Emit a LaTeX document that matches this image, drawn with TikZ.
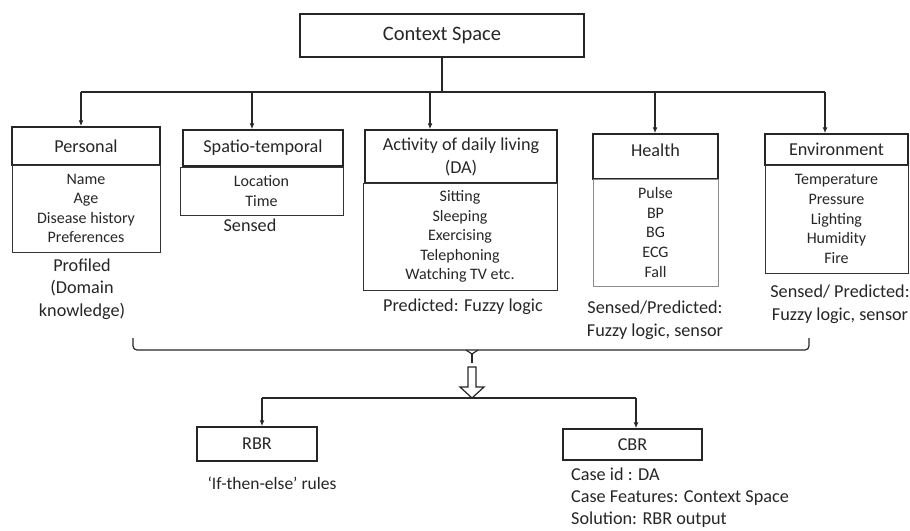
\documentclass[tikz,border=0pt]{standalone}
\usepackage{fontspec}
\setmainfont{Carlito}
\usetikzlibrary{arrows.meta}
\begin{document}
\begin{tikzpicture}[x=1pt,y=-1pt,
  line/.style={draw=black!85, line width=1.2pt},
  arr/.style={line, -{Latex[length=6pt,width=5pt]}},
  title/.style={draw=black!85, line width=1.5pt, rectangle, inner sep=0pt, align=center,
    text=black!85, font=\fontsize{20.5}{24}\selectfont},
  head/.style={draw=black!85, line width=1.5pt, rectangle, inner sep=0pt, align=center,
    text=black!85, font=\fontsize{18.2}{23}\selectfont},
  list/.style={draw=black!80, line width=1pt, rectangle, inner sep=0pt, align=center,
    text=black!85, font=\fontsize{16}{19.6}\selectfont},
  lbl/.style={inner sep=0pt, align=center, text=black!85, font=\fontsize{18.2}{22.5}\selectfont},
]
\useasboundingbox (0,0) rectangle (910,530);

% top node
\node[title, minimum width=284pt, minimum height=43pt] (cs) at (442,35.5) {Context Space};

% context categories: header boxes
\node[head, minimum width=148pt, minimum height=38pt] (ph) at (86,146) {Personal};
\node[head, minimum width=160pt, minimum height=36pt] (sh) at (263,148) {Spatio-temporal};
\node[head, minimum width=192pt, minimum height=53pt] (ah) at (461,156.5) {Activity of daily living\\(DA)};
\node[head, minimum width=125pt, minimum height=45pt, text height=12pt, text depth=13pt] (hh) at (655.5,156.5) {Health};
\node[head, minimum width=143pt, minimum height=31pt] (eh) at (836.5,149.5) {Environment};

% context categories: attribute lists
\node[list, minimum width=148pt, minimum height=87pt] (pl) at (86,208.5) {Name\\Age\\Disease history\\Preferences};
\node[list, minimum width=163pt, minimum height=48pt] (sl) at (261.5,191) {Location\\Time};
\node[list, minimum width=194pt, minimum height=107pt] (al) at (460,236.5) {Sitting\\Sleeping\\Exercising\\Telephoning\\Watching TV etc.};
\node[list, draw=black!45, minimum width=125pt, minimum height=107pt] (hl) at (655.5,232.5) {Pulse\\BP\\BG\\ECG\\Fall};
\node[list, minimum width=143pt, minimum height=108pt] (el) at (836.5,219) {Temperature\\Pressure\\Lighting\\Humidity\\Fire};

% source annotations
\node[lbl] (pn) at (82,289) {Profiled\\(Domain\\knowledge)};
\node[lbl] (sn) at (250,225) {Sensed};
\node[lbl] (an) at (463,307) {Predicted: Fuzzy logic};
\node[lbl] (hn) at (655,320) {Sensed/Predicted:\\Fuzzy logic, sensor};
\node[lbl] (en) at (840,304) {Sensed/ Predicted:\\Fuzzy logic, sensor};

% distribution bus
\coordinate (top) at (442,92);
\coordinate (b1) at (81,92);
\coordinate (b2) at (252,92);
\coordinate (b3) at (430,92);
\coordinate (b4) at (655,92);
\coordinate (b5) at (825,92);
\draw[line] (cs.south) -- (top);
\draw[line] (b1) -- (b5);
\draw[arr] (b1) -- (b1 |- ph.north);
\draw[arr] (b2) -- (b2 |- sh.north);
\draw[arr] (b3) -- (b3 |- ah.north);
\draw[arr] (b4) -- (b4 |- hh.north);
\draw[arr] (b5) -- (b5 |- eh.north);

% gathering bracket
\coordinate (gl) at (133,338);
\coordinate (gr) at (809,338);
\coordinate (gm) at (472,350);
\draw[line, rounded corners=4pt] (gl) -- (133,350) -- (809,350) -- (gr);
\draw[line] (466,350) -- (472,354) -- (478,350);
\draw[line] (472,353) -- (472,363);

% hollow block arrow
\draw[line, fill=white] (468,367) -- (476,367) -- (476,387) -- (484,387) -- (472,398)
  -- (460,387) -- (468,387) -- cycle;

% reasoning modules
\node[head, minimum width=120pt, minimum height=34pt] (rbr) at (257,444) {RBR};
\node[head, minimum width=139pt, minimum height=31pt] (cbr) at (632.5,444.5) {CBR};

\coordinate (split) at (472,398);
\coordinate (r1) at (262,398);
\coordinate (c1) at (636,398);
\draw[line] (r1) -- (c1);
\draw[arr] (r1) -- (r1 |- rbr.north);
\draw[arr] (c1) -- (c1 |- cbr.north);

\node[lbl, font=\fontsize{17.5}{22}\selectfont] (rn) at (272,483) {`If-then-else' rules};
\node[lbl, align=left, anchor=west, font=\fontsize{18.2}{22}\selectfont] (cn) at (571,498) {Case id : DA\\Case Features: Context Space\\Solution: RBR output};

\end{tikzpicture}
\end{document}
